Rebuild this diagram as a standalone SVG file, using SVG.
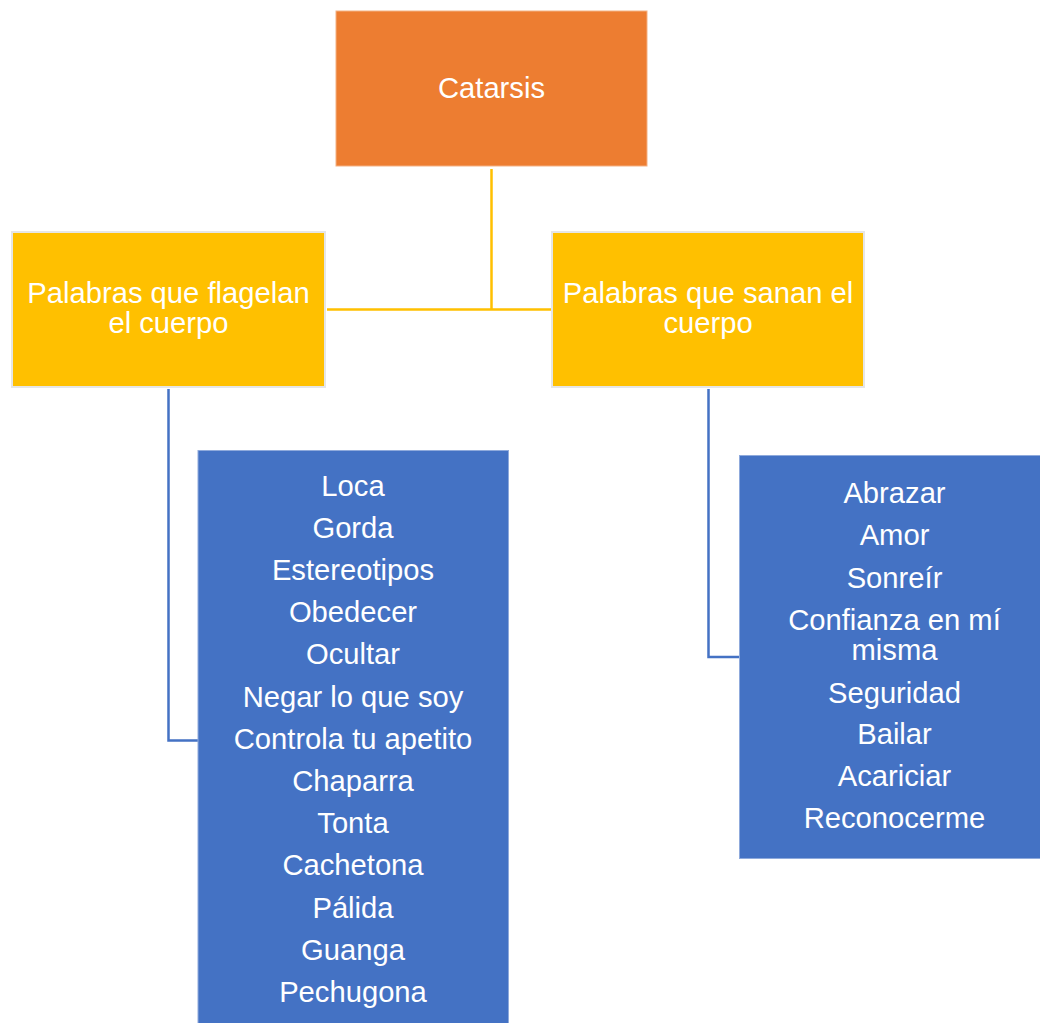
<svg xmlns="http://www.w3.org/2000/svg" width="1040" height="1023" viewBox="0 0 1040 1023">
<style>
text{font-family:"Liberation Sans",Arial,sans-serif;fill:#ffffff;text-anchor:middle}
.h{font-size:29.2px}
.l{font-size:29.2px}
.ylw{fill:#FFC000;stroke:#E6E6E6;stroke-width:2}
.blu{fill:#4472C4;stroke:#8FAADC;stroke-width:1}
.cy{stroke:#FFC000;stroke-width:2.5;fill:none}
.cb{stroke:#4472C4;stroke-width:2.5;fill:none}
</style>
<rect width="1040" height="1023" fill="#ffffff"/>
<g id="connectors">
<path class="cy" d="M491.5 169 V309.5 M327 309.5 H551"/>
<path class="cb" d="M168.5 389 V740.5 H198"/>
<path class="cb" d="M708.5 389 V657 H739"/>
</g>
<g id="catarsis">
<rect x="336" y="11" width="311" height="155" fill="#ED7D31" stroke="#F4B183" stroke-width="1"/>
<text class="h" x="491.5" y="98">Catarsis</text>
</g>
<g id="flagelan">
<rect class="ylw" x="12" y="232" width="313" height="155"/>
<text class="h" x="168.5" y="303">Palabras que flagelan</text>
<text class="h" x="168.5" y="333">el cuerpo</text>
</g>
<g id="sanan">
<rect class="ylw" x="552" y="232" width="312" height="155"/>
<text class="h" x="708" y="303">Palabras que sanan el</text>
<text class="h" x="708" y="333">cuerpo</text>
</g>
<g id="lista-flagelan">
<rect class="blu" x="198" y="450.5" width="310.5" height="580"/>
<text class="l" x="353" y="495.5">Loca</text>
<text class="l" x="353" y="537.7">Gorda</text>
<text class="l" x="353" y="579.9">Estereotipos</text>
<text class="l" x="353" y="622.1">Obedecer</text>
<text class="l" x="353" y="664.3">Ocultar</text>
<text class="l" x="353" y="706.5">Negar lo que soy</text>
<text class="l" x="353" y="748.7">Controla tu apetito</text>
<text class="l" x="353" y="790.9">Chaparra</text>
<text class="l" x="353" y="833.1">Tonta</text>
<text class="l" x="353" y="875.3">Cachetona</text>
<text class="l" x="353" y="917.5">Pálida</text>
<text class="l" x="353" y="959.7">Guanga</text>
<text class="l" x="353" y="1001.9">Pechugona</text>
</g>
<g id="lista-sanan">
<rect class="blu" x="739.5" y="455.5" width="320" height="403"/>
<text class="l" x="894.5" y="503">Abrazar</text>
<text class="l" x="894.5" y="545.3">Amor</text>
<text class="l" x="894.5" y="587.8">Sonreír</text>
<text class="l" x="894.5" y="629.5">Confianza en mí</text>
<text class="l" x="894.5" y="659.5">misma</text>
<text class="l" x="894.5" y="702.5">Seguridad</text>
<text class="l" x="894.5" y="743.8">Bailar</text>
<text class="l" x="894.5" y="786">Acariciar</text>
<text class="l" x="894.5" y="828.3">Reconocerme</text>
</g>
</svg>
